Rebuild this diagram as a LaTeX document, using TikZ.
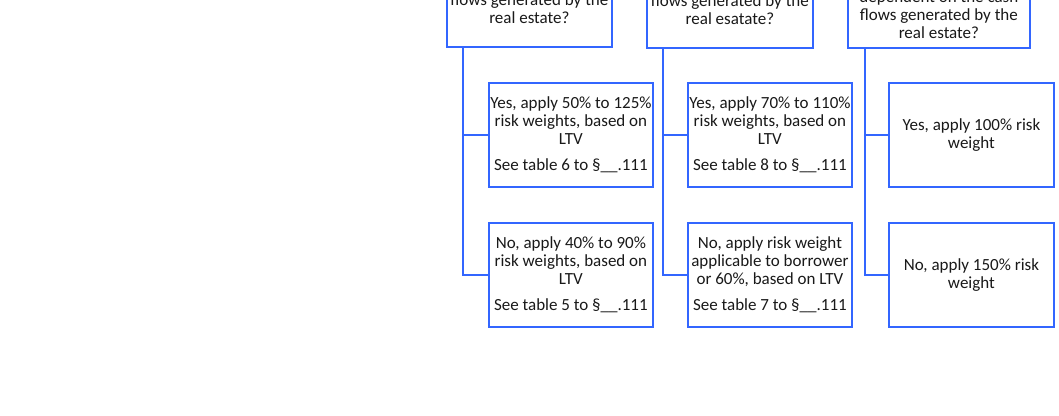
\documentclass[tikz,border=0pt]{standalone}
\usepackage{fontspec}
\setmainfont{Carlito}
\definecolor{lineblue}{RGB}{51,102,255}
\definecolor{txt}{RGB}{25,25,25}
\begin{document}
\begin{tikzpicture}[x=1pt,y=-1pt,
  box/.style={draw=lineblue,line width=1.8pt,fill=white,align=center,text=txt,
    font=\fontsize{17}{17.8}\selectfont,inner sep=0pt,anchor=north west},
  conn/.style={draw=lineblue,line width=2pt}]
\useasboundingbox (0,0) rectangle (1059,415);
\clip (0,0) rectangle (1059,415);
% top question boxes (cut off by the frame)
\node[box,minimum width=165,minimum height=76] (q1) at (446,-30) {flows generated by the\\real estate?};
\node[box,minimum width=166,minimum height=77] (q2) at (646,-30) {flows generated by the\\real esatate?};
\node[box,minimum width=182,minimum height=66] (q3) at (847,-19) {dependent on the cash\\flows generated by the\\real estate?};
% answers, row 1
\node[box,minimum width=164,minimum height=104] (a1) at (488,82) {Yes, apply 50\% to 125\%\\risk weights, based on\\LTV\\[9pt]See table 6 to §\_\_.111};
\node[box,minimum width=164,minimum height=104] (b1) at (687,82) {Yes, apply 70\% to 110\%\\risk weights, based on\\LTV\\[9pt]See table 8 to §\_\_.111};
\node[box,minimum width=165,minimum height=104] (c1) at (888,82) {Yes, apply 100\% risk\\weight};
% answers, row 2
\node[box,minimum width=164,minimum height=104] (a2) at (488,222) {No, apply 40\% to 90\%\\risk weights, based on\\LTV\\[9pt]See table 5 to §\_\_.111};
\node[box,minimum width=164,minimum height=104] (b2) at (687,222) {No, apply risk weight\\applicable to borrower\\or 60\%, based on LTV\\[9pt]See table 7 to §\_\_.111};
\node[box,minimum width=165,minimum height=104] (c2) at (888,222) {No, apply 150\% risk\\weight};
% connectors
\coordinate (t1) at ([xshift=17pt]q1.south west);
\coordinate (t2) at ([xshift=17pt]q2.south west);
\coordinate (t3) at ([xshift=18pt]q3.south west);
\coordinate (m1) at (t1 |- a1.west);
\coordinate (m2) at (t2 |- b1.west);
\coordinate (m3) at (t3 |- c1.west);
\draw[conn] (t1) |- (a2.west) (m1) -- (a1.west);
\draw[conn] (t2) |- (b2.west) (m2) -- (b1.west);
\draw[conn] (t3) |- (c2.west) (m3) -- (c1.west);
\end{tikzpicture}
\end{document}
